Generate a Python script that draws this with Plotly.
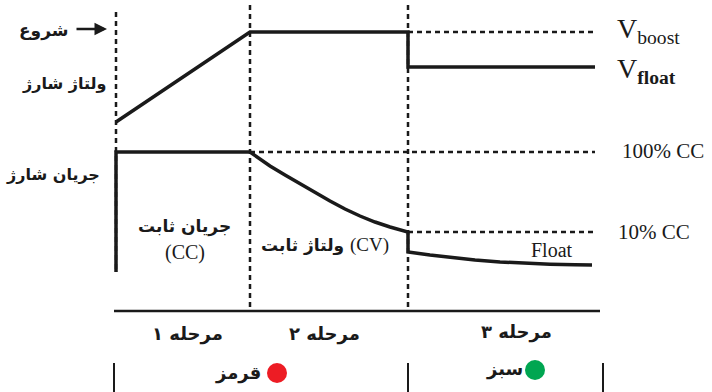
import plotly.graph_objects as go

# Stage boundaries (time axis, picture units)
t_start = 116
t_cv = 250
t_float = 408
t_end = 595

# Charge voltage (picture units, y grows downward)
volt_t = [116, 250, 408, 408, 595]
volt_v = [122, 32, 32, 67, 67]

# Charge current
curr_t = [116, 116, 250, 260, 270, 285, 300, 315, 330, 345, 360, 375, 390, 408, 408,
          430, 450, 475, 500, 525, 550, 575, 592]
curr_i = [272, 152, 152, 159, 166, 175, 184, 193, 201, 209, 216, 222, 227, 232, 252,
          255, 257.5, 260, 262, 263.3, 264.2, 264.8, 265]

# Reference levels
v_boost = 32
i_100 = 152
i_10 = 232
axis_y = 311

fa = "DejaVu Sans"
fl = "Liberation Serif"
black = "#1a1a1a"

fig = go.Figure()

# dashed stage dividers
dash = dict(color=black, width=2.5, dash="5px,4px")
fig.add_trace(go.Scatter(x=[t_start, t_start], y=[12, 272], mode="lines", line=dash))
fig.add_trace(go.Scatter(x=[t_cv, t_cv], y=[5, axis_y], mode="lines", line=dash))
fig.add_trace(go.Scatter(x=[t_float, t_float], y=[5, axis_y], mode="lines", line=dash))

# dashed reference levels
fig.add_trace(go.Scatter(x=[t_float, t_end], y=[v_boost, v_boost], mode="lines", line=dash))
fig.add_trace(go.Scatter(x=[t_cv, t_end], y=[i_100, i_100], mode="lines", line=dash))
fig.add_trace(go.Scatter(x=[t_float, t_end], y=[i_10, i_10], mode="lines", line=dash))

# curves
fig.add_trace(go.Scatter(x=volt_t, y=volt_v, mode="lines", line=dict(color=black, width=3.5)))
fig.add_trace(go.Scatter(x=curr_t, y=curr_i, mode="lines", line=dict(color=black, width=3.5)))

# base axis and ticks
fig.add_trace(go.Scatter(x=[114, 600], y=[axis_y, axis_y], mode="lines", line=dict(color=black, width=2.5)))
for xt in [114, 408, 603]:
    fig.add_trace(go.Scatter(x=[xt, xt], y=[363, 392], mode="lines", line=dict(color=black, width=2)))

# LED dots
fig.add_trace(go.Scatter(x=[277, 535], y=[373, 370], mode="markers",
                         marker=dict(size=20, color=["#ed1c24", "#00a651"])))

def txt(x, y, s, size=16, font=fa, anchor="center", bold=True):
    fig.add_annotation(x=x, y=y, text=f"<b>{s}</b>" if bold else s, showarrow=False,
                       xanchor=anchor, font=dict(family=font, size=size, color=black))

txt(70, 30, "شروع", 17, anchor="right")
fig.add_annotation(x=107, y=29, ax=75, ay=29, axref="x", ayref="y", text="", showarrow=True,
                   arrowhead=2, arrowsize=1, arrowwidth=2.5, arrowcolor=black)
txt(108, 83, "ولتاژ شارژ", 16, anchor="right")
txt(102, 174, "جریان شارژ", 16, anchor="right")
txt(184, 226, "جریان ثابت", 17)
txt(185, 252, "(CC)", 20, fl, bold=False)
txt(325, 245, "ولتاژ ثابت <span style='font-family:Liberation Serif;font-weight:normal;font-size:19px'>(CV)</span>", 17)
txt(552, 250, "Float", 20, fl, bold=False)
txt(615, 30, "V<sub>boost</sub>", 28, fl, anchor="left", bold=False)
txt(615, 70, "V<sub><b>float</b></sub>", 28, fl, anchor="left", bold=False)
txt(620, 151, "100% CC", 21, fl, anchor="left", bold=False)
txt(616, 232, "10% CC", 21, fl, anchor="left", bold=False)
txt(187, 334, "مرحله ۱", 18)
txt(324, 334, "مرحله ۲", 18)
txt(516, 332, "مرحله ۳", 18)
txt(238, 373, "قرمز", 18)
txt(504, 369, "سبز", 18)

fig.update_layout(
    width=712, height=392,
    margin=dict(l=0, r=0, t=0, b=0),
    paper_bgcolor="white", plot_bgcolor="white",
    showlegend=False,
    xaxis=dict(range=[0, 712], visible=False),
    yaxis=dict(range=[392, 0], visible=False),
)

fig.write_html("out.html", config={"displayModeBar": False},
               post_script="document.body.style.margin='0';")
